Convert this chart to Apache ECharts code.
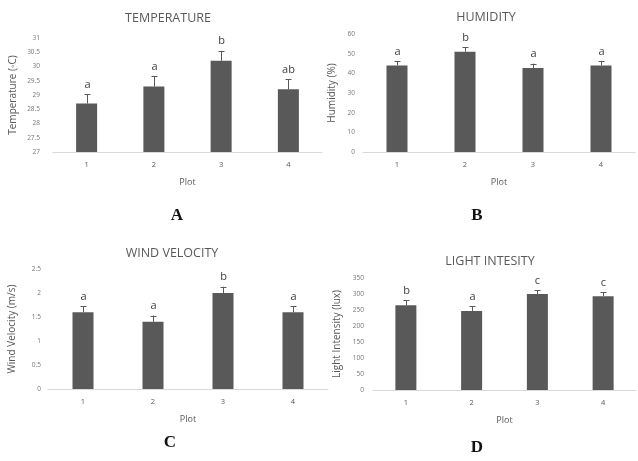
<!DOCTYPE html>
<html>
<head>
<meta charset="utf-8">
<script src="https://cdn.jsdelivr.net/npm/echarts@6/dist/echarts.min.js"></script>
<style>
  html, body { margin: 0; padding: 0; background: #fff; }
  #chart { width: 638px; height: 461px; }
</style>
</head>
<body>
<div id="chart"></div>
<script>
const plots = ['1', '2', '3', '4'];

const tempMean = [28.7, 29.3, 30.2, 29.2];
const tempErr = [0.33, 0.35, 0.35, 0.35];
const tempLetters = ['a', 'a', 'b', 'ab'];

const humMean = [44, 51, 42.7, 44];
const humErr = [2.1, 2.2, 2.2, 2.3];
const humLetters = ['a', 'b', 'a', 'a'];

const windMean = [1.6, 1.4, 2.0, 1.6];
const windErr = [0.13, 0.13, 0.13, 0.13];
const windLetters = ['a', 'a', 'b', 'a'];

const lightMean = [265, 247, 300, 293];
const lightErr = [15, 14, 12, 12];
const lightLetters = ['b', 'a', 'c', 'c'];

const barColor = '#595959';
const textColor = '#595959';
const font = 'Open Sans';

const chart = echarts.init(document.getElementById('chart'), null, { renderer: 'canvas' });

function xAxisFor(gridIndex) {
  return {
    type: 'category',
    gridIndex,
    data: plots,
    name: 'Plot',
    nameLocation: 'middle',
    nameGap: 26,
    nameTextStyle: { color: textColor, fontSize: 9, fontFamily: font },
    axisLine: { lineStyle: { color: '#d9d9d9', width: 1 } },
    axisTick: { show: false },
    axisLabel: { color: textColor, fontSize: 7.5, margin: 9, fontFamily: font }
  };
}

function yAxisFor(gridIndex, name, min, max, interval, labelMargin, nameGap) {
  return {
    type: 'value',
    gridIndex,
    min,
    max,
    interval,
    name,
    nameLocation: 'middle',
    nameGap,
    nameTextStyle: { color: textColor, fontSize: 10, fontFamily: font },
    axisLine: { show: false },
    axisTick: { show: false },
    splitLine: { show: false },
    axisLabel: { color: '#777', fontSize: 6.5, margin: labelMargin, fontFamily: font }
  };
}

function barSeries(idx, values) {
  return {
    type: 'bar',
    xAxisIndex: idx,
    yAxisIndex: idx,
    data: values,
    barWidth: 21,
    clip: true,
    itemStyle: { color: barColor },
    silent: true
  };
}

function errSeries(idx, means, errs, letters) {
  return {
    type: 'custom',
    xAxisIndex: idx,
    yAxisIndex: idx,
    silent: true,
    z: 3,
    data: means.map((m, i) => [i, m, m + errs[i]]),
    renderItem(params, api) {
      const base = api.coord([api.value(0), api.value(1)]);
      const top = api.coord([api.value(0), api.value(2)]);
      const x = Math.round(base[0]) + 0.5;
      return {
        type: 'group',
        children: [
          {
            type: 'line',
            shape: { x1: x, y1: base[1], x2: x, y2: top[1] },
            style: { stroke: '#595959', lineWidth: 1 }
          },
          {
            type: 'line',
            shape: { x1: x - 3, y1: Math.round(top[1]) + 0.5, x2: x + 3, y2: Math.round(top[1]) + 0.5 },
            style: { stroke: '#595959', lineWidth: 1 }
          },
          {
            type: 'text',
            x: x,
            y: top[1] - 4,
            style: {
              text: letters[params.dataIndex],
              fill: '#404040',
              fontSize: 11,
              fontFamily: font,
              textAlign: 'center',
              textVerticalAlign: 'bottom'
            }
          }
        ]
      };
    }
  };
}

function panelTitle(text, x, y) {
  return {
    text,
    left: x,
    top: y,
    textAlign: 'center',
    textStyle: { color: textColor, fontSize: 12.5, fontWeight: 'normal', fontFamily: font }
  };
}

function panelLetter(text, x, y) {
  return {
    text,
    left: x,
    top: y,
    textAlign: 'center',
    textStyle: { color: '#111', fontSize: 17, fontWeight: 'bold', fontFamily: 'Liberation Serif' }
  };
}

chart.setOption({
  backgroundColor: '#fff',
  animation: false,
  title: [
    panelTitle('TEMPERATURE', 163, 7),
    panelTitle('HUMIDITY', 481, 6),
    panelTitle('WIND VELOCITY', 167, 242),
    panelTitle('LIGHT INTESITY', 485, 250),
    panelLetter('A', 172, 202),
    panelLetter('B', 472, 202),
    panelLetter('C', 165, 429),
    panelLetter('D', 472, 434)
  ],
  grid: [
    { left: 53, right: 316, top: 38, bottom: 309 },
    { left: 363, right: 3, top: 34, bottom: 309 },
    { left: 48, right: 310, top: 269, bottom: 72 },
    { left: 373, right: 2, top: 278, bottom: 71 }
  ],
  xAxis: [xAxisFor(0), xAxisFor(1), xAxisFor(2), xAxisFor(3)],
  yAxis: [
    yAxisFor(0, 'Temperature (◦C)', 27, 31, 0.5, 13, 35),
    yAxisFor(1, 'Humidity (%)', 0, 60, 10, 8, 26),
    yAxisFor(2, 'Wind Velocity (m/s)', 0, 2.5, 0.5, 7, 31),
    yAxisFor(3, 'Light Intensity (lux)', 0, 350, 50, 9, 31)
  ],
  series: [
    barSeries(0, tempMean),
    barSeries(1, humMean),
    barSeries(2, windMean),
    barSeries(3, lightMean),
    errSeries(0, tempMean, tempErr, tempLetters),
    errSeries(1, humMean, humErr, humLetters),
    errSeries(2, windMean, windErr, windLetters),
    errSeries(3, lightMean, lightErr, lightLetters)
  ]
});
</script>
</body>
</html>
